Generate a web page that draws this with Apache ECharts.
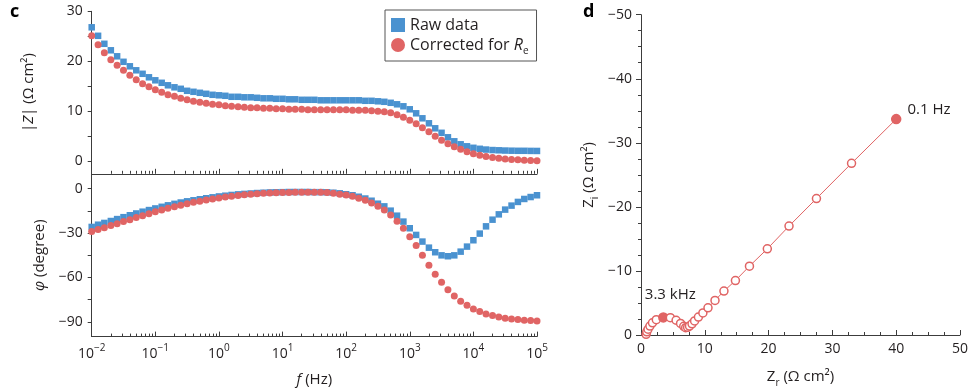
<!DOCTYPE html>
<html><head><meta charset="utf-8">
<script src="https://cdn.jsdelivr.net/npm/echarts@6/dist/echarts.min.js"></script>
<style>html,body{margin:0;padding:0;background:#fff}#c{width:971px;height:392px}</style>
</head><body><div id="c"></div>
<script>
// ---------- data ----------
const freqHz = [
  0.01,0.0126,0.0158,0.02,0.0251,0.0316,0.0398,0.0501,0.0631,0.0794,
  0.1,0.126,0.158,0.2,0.251,0.316,0.398,0.501,0.631,0.794,
  1,1.26,1.58,2,2.51,3.16,3.98,5.01,6.31,7.94,
  10,12.6,15.8,20,25.1,31.6,39.8,50.1,63.1,79.4,
  100,126,158,200,251,316,398,501,631,794,
  1000,1260,1580,2000,2510,3160,3980,5010,6310,7940,
  10000,12600,15800,20000,25100,31600,39800,50100,63100,79400,
  100000
];
const zRaw = [
  26.8,25.1,23.5,22.2,21.0,19.9,19.0,18.2,17.5,16.8,16.2,15.7,15.2,14.8,14.5,14.1,13.9,13.7,13.5,13.3,13.2,13.1,12.9,12.9,12.8,
  12.8,12.7,12.6,12.6,12.5,12.5,12.4,12.4,12.3,12.3,12.3,12.2,12.2,12.2,12.2,12.2,12.2,12.2,12.1,
  12.1,12.0,11.9,11.7,11.4,11.0,10.4,9.6,8.6,7.6,6.6,5.7,4.8,4.0,3.4,3.0,2.7,2.5,2.35,2.25,2.2,2.15,2.12,2.1,2.1,2.08,2.07
];
const zCorr = [
  25.1,23.3,21.7,20.3,19.2,18.2,17.2,16.3,15.5,14.9,14.3,13.8,13.3,13.0,12.6,12.3,12.0,11.8,11.6,11.4,11.3,11.1,11.0,10.9,10.8,
  10.7,10.7,10.6,10.6,10.5,10.5,10.4,10.4,10.4,10.3,10.3,10.3,10.3,10.3,10.3,10.3,10.2,10.2,10.2,10.1,10.0,
  9.9,9.7,9.3,8.8,8.2,7.5,6.7,5.9,5.0,4.2,3.5,2.9,2.4,1.9,1.5,1.2,0.95,0.75,0.6,0.48,0.38,0.3,0.22,0.17,0.13
];
const phRaw = [
  -25.9,-24.4,-23.2,-21.9,-20.6,-19.3,-18.0,-16.8,-15.6,-14.5,-13.4,-12.3,-11.3,-10.3,-9.4,-8.6,-7.9,-7.2,-6.5,-5.9,-5.3,-4.8,-4.3,-3.9,-3.6,-3.3,-3.0,-2.8,-2.6,-2.5,-2.4,-2.3,-2.3,-2.3,-2.3,
  -2.4,-2.4,-2.5,-2.8,-3.2,-3.8,-4.5,-5.5,-6.7,-8.2,-10.2,-12.0,-14.9,-18.3,-22.3,-26.8,-31.3,-35.8,-39.9,-43.0,-45.1,-45.7,-45.1,-42.6,-39.2,-34.9,-30.4,-25.5,-21.0,-17.4,-14.2,-11.5,-9.0,-7.0,-5.7,-4.5
];
const phCorr = [
  -29.0,-27.7,-26.4,-25.0,-23.7,-22.3,-21.0,-19.6,-18.3,-17.0,-15.7,-14.5,-13.3,-12.2,-11.2,-10.2,-9.3,-8.5,-7.7,-7.0,-6.3,-5.7,-5.1,-4.6,-4.2,-3.8,-3.5,-3.2,-3.0,-2.8,-2.7,-2.6,-2.5,-2.5,-2.5,
  -2.5,-2.5,-2.7,-3.1,-3.9,-4.4,-5.2,-6.5,-7.9,-9.7,-12.0,-14.4,-17.8,-22.1,-26.8,-32.5,-38.5,-45.1,-51.8,-57.9,-63.3,-68.3,-72.5,-76.1,-78.9,-81.3,-83.1,-84.7,-85.8,-86.7,-87.6,-88.1,-88.5,-89.0,-89.2,-89.4
];
const nyqZr = [0.8,0.9,1.1,1.4,1.8,2.4,3.5,4.6,5.5,6.2,6.7,7.0,7.3,7.6,8.0,8.4,9.0,9.7,10.5,11.6,13.0,14.8,17.0,19.8,23.2,27.5,33.0,40.0];
const nyqZi = [-0.1,-0.5,-0.9,-1.4,-1.9,-2.4,-2.75,-2.7,-2.3,-1.8,-1.35,-1.15,-1.2,-1.4,-1.75,-2.2,-2.8,-3.45,-4.25,-5.4,-6.85,-8.5,-10.75,-13.45,-17.0,-21.3,-26.8,-33.7];
const nyqMarked = {6: '3.3 kHz', 27: '0.1 Hz'};
const seriesNames = ['Raw data', 'Corrected for Re'];
const decadeTicks = [-2,-1,0,1,2,3,4,5];
const zTicks = [0,10,20,30];
const phTicks = [-90,-60,-30,0];

// ---------- style ----------
const BLUE = '#4a92d0', RED = '#e06464', INK = '#231f20', AX = '#3c3c3c';
const FONT = 'Open Sans';
const logx = freqHz.map(f => Math.log10(f));
const minorLog = [];
decadeTicks.slice(0, -1).forEach(d => { for (let k = 2; k <= 9; k++) minorLog.push(d + Math.log10(k)); });
const minus = v => (v < 0 ? '\u2212' + (-v) : String(v));
const supRich = {
  b: {fontSize: 14, fontFamily: FONT, color: INK, lineHeight: 20},
  sup: {fontSize: 10, fontFamily: FONT, color: INK, lineHeight: 10, verticalAlign: 'top'}
};
const nameRich = {
  n: {fontSize: 15, fontFamily: FONT, color: INK, lineHeight: 22},
  it: {fontSize: 15, fontFamily: FONT, fontStyle: 'italic', color: INK, lineHeight: 22},
  sub: {fontSize: 10, fontFamily: FONT, color: INK, lineHeight: 10, verticalAlign: 'bottom'}
};
const axLine = {show: true, onZero: false, lineStyle: {color: AX, width: 1}};
const labelStyle = {color: INK, fontSize: 14, fontFamily: FONT};

function logXAxis(grid, withLabels) {
  const main = {
    gridIndex: grid, type: 'value', min: -2, max: 5, interval: 1, position: 'bottom',
    axisLine: axLine, splitLine: {show: false},
    axisTick: {show: true, inside: true, length: 5, lineStyle: {color: AX}},
    axisLabel: withLabels ? {
      show: true, margin: 7, ...labelStyle, rich: supRich,
      formatter: v => '{b|10}{sup|' + minus(v) + '}'
    } : {show: false}
  };
  if (withLabels) {
    main.name = '{it|f}{n| (Hz)}';
    main.nameLocation = 'middle';
    main.nameGap = 32;
    main.nameTextStyle = {rich: nameRich};
  }
  const minor = {
    gridIndex: grid, type: 'value', min: -2, max: 5, position: 'bottom',
    axisLine: {show: false, onZero: false}, splitLine: {show: false}, axisLabel: {show: false},
    axisTick: {show: true, inside: true, length: 3, customValues: minorLog, lineStyle: {color: AX}}
  };
  return [main, minor];
}

const xAxes = [...logXAxis(0, false), ...logXAxis(1, true), {
  gridIndex: 2, type: 'value', min: 0, max: 50, interval: 10,
  axisLine: axLine, splitLine: {show: false},
  axisTick: {show: true, inside: true, length: 5, lineStyle: {color: AX}},
  minorTick: {show: true, splitNumber: 4, length: 3, lineStyle: {color: AX}},
  axisLabel: {margin: 7, ...labelStyle},
  name: '{n|Z}{sub|r}{n| (\u03a9 cm\u00b2)}', nameLocation: 'middle', nameGap: 31,
  nameTextStyle: {rich: nameRich}
}];

const yAxes = [{
  gridIndex: 0, type: 'value', min: -2.5, max: 30,
  axisLine: axLine, splitLine: {show: false},
  axisTick: {show: true, length: 4, customValues: [0,5,10,15,20,25,30], lineStyle: {color: AX}},
  axisLabel: {margin: 9, ...labelStyle, customValues: zTicks, formatter: minus},
  name: '{n||}{it|Z}{n|| (\u03a9 cm\u00b2)}', nameLocation: 'middle', nameGap: 52,
  nameTextStyle: {rich: nameRich}
}, {
  gridIndex: 1, type: 'value', min: -100, max: 10,
  axisLine: axLine, splitLine: {show: false},
  axisTick: {show: true, length: 4, customValues: [-90,-75,-60,-45,-30,-15,0], lineStyle: {color: AX}},
  axisLabel: {margin: 9, ...labelStyle, customValues: phTicks, formatter: minus},
  name: '{it|\u03c6}{n| (degree)}', nameLocation: 'middle', nameGap: 41,
  nameTextStyle: {rich: nameRich}
}, {
  gridIndex: 2, type: 'value', min: -50, max: 0, interval: 10, inverse: true,
  axisLine: axLine, splitLine: {show: false},
  axisTick: {show: true, length: 5, lineStyle: {color: AX}},
  minorTick: {show: true, splitNumber: 4, length: 3, lineStyle: {color: AX}},
  axisLabel: {margin: 9, ...labelStyle, formatter: minus},
  name: '{n|Z}{sub|i}{n| (\u03a9 cm\u00b2)}', nameLocation: 'middle', nameGap: 41,
  nameTextStyle: {rich: nameRich}
}];

function scat(name, xi, yi, ys, color, sym, size) {
  return {
    name, type: 'scatter', xAxisIndex: xi, yAxisIndex: yi,
    symbol: sym, symbolSize: size, itemStyle: {color, opacity: 1},
    data: ys.map((v, i) => [logx[i], v]), silent: true
  };
}

const nyqData = nyqZr.map((x, i) => {
  const item = {value: [x, nyqZi[i]]};
  if (nyqMarked[i] !== undefined) {
    item.itemStyle = {color: RED, borderColor: RED};
    item.symbolSize = 9;
    item.label = i === 27
      ? {show: true, formatter: nyqMarked[i], position: 'right', distance: 6, offset: [0, -9], color: INK, fontSize: 15, fontFamily: FONT}
      : {show: true, formatter: nyqMarked[i], position: 'top', distance: 6, offset: [7, -4], color: INK, fontSize: 15, fontFamily: FONT};
  }
  return item;
});

const option = {
  animation: false,
  textStyle: {fontFamily: FONT},
  grid: [
    {left: 91.7, top: 11.3, width: 445.3, height: 162.5, containLabel: false, outerBoundsMode: 'none'},
    {left: 91.7, top: 173.8, width: 445.3, height: 162.8, containLabel: false, outerBoundsMode: 'none'},
    {left: 641, top: 14.7, width: 319, height: 320.3, containLabel: false, outerBoundsMode: 'none'}
  ],
  xAxis: xAxes,
  yAxis: yAxes,
  legend: {
    data: seriesNames, orient: 'vertical', left: 385, top: 10,
    borderColor: '#555', borderWidth: 1, padding: [7, 8, 5, 6], itemGap: 4,
    itemWidth: 14, itemHeight: 14, selectedMode: false,
    textStyle: {color: INK, fontSize: 16, fontFamily: FONT, rich: {
      it: {fontStyle: 'italic', fontSize: 16, fontFamily: FONT, color: INK, lineHeight: 22},
      sub: {fontSize: 10, fontFamily: FONT, color: INK, lineHeight: 10, verticalAlign: 'bottom'}
    }},
    formatter: n => n === 'Corrected for Re' ? 'Corrected for {it|R}{sub|e}' : n
  },
  graphic: [
    {type: 'text', left: 10, top: 3, style: {text: 'c', font: 'bold 18px "Open Sans"', fill: '#000'}},
    {type: 'text', left: 583, top: 3, style: {text: 'd', font: 'bold 18px "Open Sans"', fill: '#000'}}
  ],
  series: [
    scat(seriesNames[0], 0, 0, zRaw, BLUE, 'rect', 6.5),
    scat(seriesNames[1], 0, 0, zCorr, RED, 'circle', 7),
    scat(seriesNames[0], 2, 1, phRaw, BLUE, 'rect', 6.5),
    scat(seriesNames[1], 2, 1, phCorr, RED, 'circle', 7),
    {
      type: 'line', xAxisIndex: 4, yAxisIndex: 2, data: nyqData,
      symbol: 'circle', symbolSize: 8, showAllSymbol: true,
      lineStyle: {color: RED, width: 1},
      itemStyle: {color: '#fff', borderColor: RED, borderWidth: 1.5},
      z: 3, silent: true
    }
  ]
};
echarts.init(document.getElementById('c'), null, {renderer: 'canvas'}).setOption(option);
</script>
</body></html>
